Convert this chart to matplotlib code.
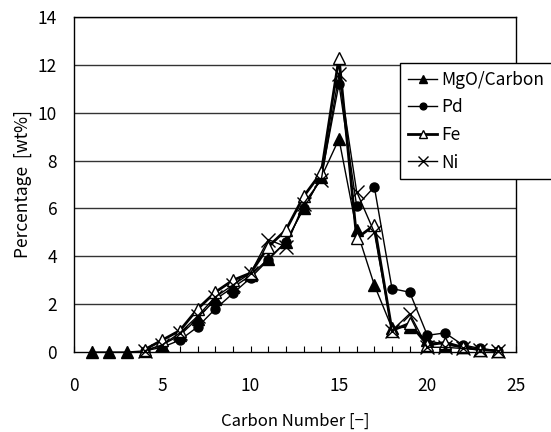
import matplotlib.pyplot as plt
from matplotlib.ticker import MultipleLocator

plt.rcParams['font.family'] = ['Noto Sans CJK JP', 'DejaVu Sans']

carbon = list(range(1, 25))

mgo = [0.0, 0.0, 0.0, 0.05, 0.3, 0.7, 1.4, 2.2, 2.7, 3.2, 3.9, 4.6,
       6.0, 7.3, 8.9, 5.1, 2.8, 1.0, 1.05, 0.5, 0.3, 0.2, 0.1, 0.05]
pd_ = [None, None, None, 0.05, 0.2, 0.5, 1.05, 1.8, 2.45, 3.1, 3.85, 4.6,
       6.0, 7.3, 11.2, 6.1, 6.9, 2.65, 2.5, 0.7, 0.8, 0.3, 0.15, 0.05]
fe = [None, None, None, 0.1, 0.5, 0.9, 1.8, 2.5, 3.0, 3.3, 4.4, 5.1,
      6.5, 7.5, 12.3, 4.75, 5.3, 0.9, 1.2, 0.3, 0.4, 0.2, 0.1, 0.05]
ni = [None, None, None, 0.05, 0.3, 0.8, 1.5, 2.3, 2.8, 3.3, 4.7, 4.4,
      6.2, 7.2, 11.6, 6.7, 5.0, 0.9, 1.6, 0.2, 0.2, 0.15, 0.1, 0.05]


def pairs(xs, ys):
    pts = [(x, y) for x, y in zip(xs, ys) if y is not None]
    return [p[0] for p in pts], [p[1] for p in pts]


fig = plt.figure(figsize=(5.51, 4.32), dpi=100)
ax = fig.add_axes([0.134, 0.185, 0.802, 0.776])

for y in range(2, 15, 2):
    ax.axhline(y, color='#333333', lw=1.0, zorder=0)

x, y = pairs(carbon, mgo)
ax.plot(x, y, '-^', color='black', lw=1.0, ms=8, mfc='black',
        clip_on=False, label='MgO/Carbon')
x, y = pairs(carbon, pd_)
ax.plot(x, y, '-o', color='black', lw=1.0, ms=6.5, mfc='black',
        clip_on=False, label='Pd')
x, y = pairs(carbon, fe)
ax.plot(x, y, '-^', color='black', lw=2.0, ms=8.5, mfc='white', mew=1.0,
        clip_on=False, label='Fe')
x, y = pairs(carbon, ni)
ax.plot(x, y, '-x', color='black', lw=1.0, ms=10, mew=1.0,
        clip_on=False, label='Ni')

ax.set_xlim(0, 25)
ax.set_ylim(0, 14)
ax.xaxis.set_major_locator(MultipleLocator(5))
ax.xaxis.set_minor_locator(MultipleLocator(1))
ax.yaxis.set_major_locator(MultipleLocator(2))
ax.tick_params(axis='x', which='both', direction='in', length=4, width=0.8,
               labelsize=12.5, pad=18)
ax.tick_params(axis='y', which='both', length=0, labelsize=12.5, pad=12)
for s in ax.spines.values():
    s.set_linewidth(1.0)

ax.set_xlabel('Carbon Number [−]', fontsize=12, labelpad=13)
ax.set_ylabel('Percentage  [wt%]', fontsize=12.5, labelpad=4)

leg = fig.legend(loc='upper left', bbox_to_anchor=(0.726, 0.854),
                 fontsize=12.5, fancybox=False, edgecolor='black', framealpha=1,
                 handlelength=1.7, handletextpad=0.2, labelspacing=0.55,
                 borderpad=0.45, borderaxespad=0, markerscale=0.75)
leg.get_frame().set_linewidth(1.0)

fig.savefig('out.png', dpi=100)
